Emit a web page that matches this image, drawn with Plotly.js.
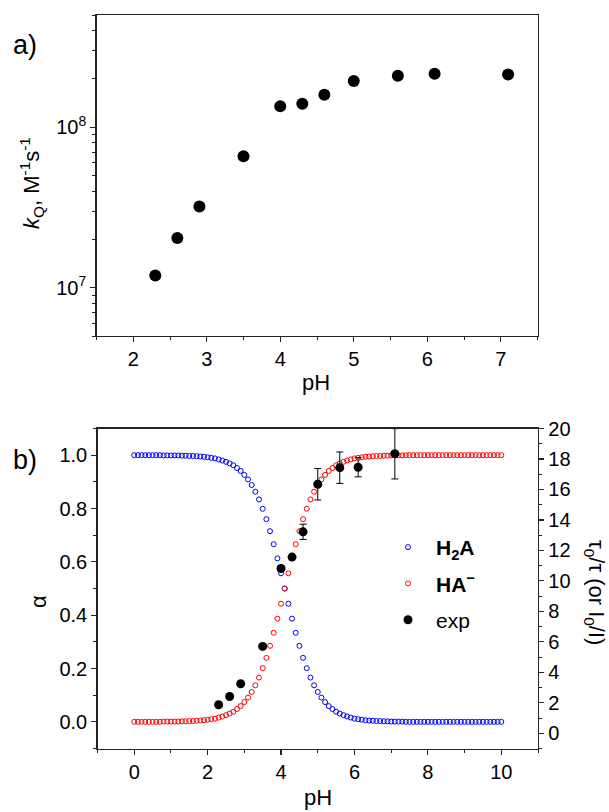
<!DOCTYPE html>
<html>
<head>
<meta charset="utf-8">
<script src="https://cdn.plot.ly/plotly-3.0.1.min.js"></script>
<style>
html,body{margin:0;padding:0;background:#fff;}
#chart{width:609px;height:812px;}
</style>
</head>
<body>
<div id="chart"></div>
<script>
// ---------- Panel a data ----------
const phA = [2.3, 2.6, 2.9, 3.5, 4.0, 4.3, 4.6, 5.0, 5.6, 6.1, 7.1];
const kQ = [1.19e7, 2.04e7, 3.2e7, 6.58e7, 1.35e8, 1.40e8, 1.59e8, 1.94e8, 2.09e8, 2.15e8, 2.13e8];
const kQTickVals = [1e7, 1e8];
const kQTickText = ['10<sup>7</sup>', '10<sup>8</sup>'];
const kQMinorVals = [5e6, 6e6, 7e6, 8e6, 9e6, 2e7, 3e7, 4e7, 5e7, 6e7, 7e7, 8e7, 9e7, 2e8, 3e8, 4e8, 5e8];

// ---------- Panel b data ----------
const phCurve = [0.0,0.1,0.2,0.3,0.4,0.5,0.6,0.7,0.8,0.9,1.0,1.1,1.2,1.3,1.4,1.5,1.6,1.7,1.8,1.9,2.0,2.1,2.2,2.3,2.4,2.5,2.6,2.7,2.8,2.9,3.0,3.1,3.2,3.3,3.4,3.5,3.6,3.7,3.8,3.9,4.0,4.1,4.2,4.3,4.4,4.5,4.6,4.7,4.8,4.9,5.0,5.1,5.2,5.3,5.4,5.5,5.6,5.7,5.8,5.9,6.0,6.1,6.2,6.3,6.4,6.5,6.6,6.7,6.8,6.9,7.0,7.1,7.2,7.3,7.4,7.5,7.6,7.7,7.8,7.9,8.0,8.1,8.2,8.3,8.4,8.5,8.6,8.7,8.8,8.9,9.0,9.1,9.2,9.3,9.4,9.5,9.6,9.7,9.8,9.9,10.0];
const alphaH2A = [1.000,1.000,1.000,1.000,1.000,1.000,1.000,1.000,0.999,0.999,0.999,0.999,0.999,0.998,0.998,0.997,0.997,0.996,0.995,0.994,0.992,0.990,0.988,0.984,0.980,0.975,0.969,0.962,0.952,0.941,0.926,0.909,0.888,0.863,0.834,0.799,0.760,0.715,0.666,0.613,0.557,0.500,0.443,0.387,0.334,0.285,0.240,0.201,0.166,0.137,0.112,0.091,0.074,0.059,0.048,0.038,0.031,0.025,0.020,0.016,0.012,0.010,0.008,0.006,0.005,0.004,0.003,0.003,0.002,0.002,0.001,0.001,0.001,0.001,0.000,0.000,0.000,0.000,0.000,0.000,0.000,0.000,0.000,0.000,0.000,0.000,0.000,0.000,0.000,0.000,0.000,0.000,0.000,0.000,0.000,0.000,0.000,0.000,0.000,0.000,0.000];
const alphaHA = [0.000,0.000,0.000,0.000,0.000,0.000,0.000,0.000,0.001,0.001,0.001,0.001,0.001,0.002,0.002,0.003,0.003,0.004,0.005,0.006,0.008,0.010,0.012,0.016,0.020,0.025,0.031,0.038,0.048,0.059,0.074,0.091,0.112,0.137,0.166,0.201,0.240,0.285,0.334,0.387,0.443,0.500,0.557,0.613,0.666,0.715,0.760,0.799,0.834,0.863,0.888,0.909,0.926,0.941,0.952,0.962,0.969,0.975,0.980,0.984,0.988,0.990,0.992,0.994,0.995,0.996,0.997,0.997,0.998,0.998,0.999,0.999,0.999,0.999,1.000,1.000,1.000,1.000,1.000,1.000,1.000,1.000,1.000,1.000,1.000,1.000,1.000,1.000,1.000,1.000,1.000,1.000,1.000,1.000,1.000,1.000,1.000,1.000,1.000,1.000,1.000];
const phExp = [2.3, 2.6, 2.9, 3.5, 4.0, 4.3, 4.6, 5.0, 5.6, 6.1, 7.1];
const tauRatio = [1.87, 2.41, 3.25, 5.70, 10.81, 11.56, 13.22, 16.34, 17.43, 17.46, 18.34];
const tauErr = [0, 0, 0, 0, 0, 0, 0.5, 1.03, 1.03, 0.63, 1.65];
const legendNames = ['<b>H<sub>2</sub>A</b>', '<b>HA<sup>\u2212</sup></b>', 'exp'];

const W = 609, H = 812;
const px = v => v / W;
const py = v => 1 - v / H;
const FONT = 'Liberation Sans, Arial, sans-serif';
const TICKF = {family: FONT, size: 20, color: '#000'};
const LC = '#222';

const traces = [
  {x: phA, y: kQ, xaxis: 'x', yaxis: 'y', type: 'scatter', mode: 'markers',
   marker: {color: '#000', size: 12}, showlegend: false, hoverinfo: 'skip'},
  {x: phCurve, y: alphaH2A, xaxis: 'x2', yaxis: 'y2', type: 'scatter', mode: 'markers',
   name: legendNames[0], legendgroup: 'g1',
   marker: {symbol: 'circle-open', color: '#0000ff', size: 5, line: {width: 1, color: '#0000ff'}}},
  {x: phCurve, y: alphaHA, xaxis: 'x2', yaxis: 'y2', type: 'scatter', mode: 'markers',
   name: legendNames[1], legendgroup: 'g2',
   marker: {symbol: 'circle-open', color: '#ff0000', size: 5, line: {width: 1, color: '#ff0000'}}},
  {x: phExp, y: tauRatio, xaxis: 'x2', yaxis: 'y3', type: 'scatter', mode: 'markers',
   name: legendNames[2], legendgroup: 'g3',
   marker: {color: '#000', size: 9},
   error_y: {type: 'data', array: tauErr, visible: true, color: '#000', thickness: 1, width: 3.5}}
];

const common = {showline: true, linecolor: LC, linewidth: 1.3, ticks: 'outside', ticklen: 5,
  tickwidth: 1.2, tickcolor: LC, showgrid: false, zeroline: false, tickfont: TICKF};

const ann = (text, x, y, size, angle) => ({text: text, x: px(x), y: py(y), xref: 'paper', yref: 'paper',
  xanchor: 'center', yanchor: 'middle', showarrow: false, textangle: angle || 0,
  font: {family: FONT, size: size, color: '#000'}});

const layout = {
  width: W, height: H,
  margin: {l: 0, r: 0, t: 0, b: 0},
  paper_bgcolor: '#fff', plot_bgcolor: '#fff',
  font: {family: FONT, color: '#000'},
  showlegend: true,
  legend: {x: px(380), y: py(527), xanchor: 'left', yanchor: 'top', bgcolor: 'rgba(0,0,0,0)',
    font: {family: FONT, size: 21, color: '#000'}, traceorder: 'grouped', tracegroupgap: 6,
    itemwidth: 46},
  xaxis: Object.assign({}, common, {domain: [px(96.5), px(537.5)], anchor: 'y', range: [1.5, 7.5],
    tickmode: 'array', tickvals: [2, 3, 4, 5, 6, 7], mirror: true,
    minor: {ticks: 'outside', ticklen: 3, tickwidth: 1, tickcolor: LC, tick0: 1.5, dtick: 0.5}}),
  yaxis: Object.assign({}, common, {domain: [py(336), py(15)], anchor: 'x', type: 'log',
    range: [Math.log10(5e6), Math.log10(5e8)], tickmode: 'array', tickvals: kQTickVals, ticktext: kQTickText,
    mirror: true,
    minor: {ticks: 'outside', ticklen: 3, tickwidth: 1, tickcolor: LC, tickmode: 'array', tickvals: kQMinorVals}}),
  xaxis2: Object.assign({}, common, {domain: [px(97.5), px(538)], anchor: 'y2', range: [-1, 11],
    tickmode: 'linear', tick0: 0, dtick: 2, mirror: true,
    minor: {ticks: 'outside', ticklen: 3, tickwidth: 1, tickcolor: LC, tick0: -1, dtick: 1}}),
  yaxis2: Object.assign({}, common, {domain: [py(748.5), py(428.5)], anchor: 'x2', range: [-0.1, 1.1],
    tickmode: 'linear', tick0: 0, dtick: 0.2, tickformat: '.1f',
    minor: {ticks: 'outside', ticklen: 3, tickwidth: 1, tickcolor: LC, tick0: -0.1, dtick: 0.1}}),
  yaxis3: Object.assign({}, common, {overlaying: 'y2', anchor: 'x2', side: 'right', range: [-1, 20],
    tickmode: 'linear', tick0: 0, dtick: 2,
    minor: {ticks: 'outside', ticklen: 3, tickwidth: 1, tickcolor: LC, tick0: -1, dtick: 1}}),
  annotations: [
    ann('a)', 25, 45, 27),
    ann('b)', 25, 460, 27),
    ann('pH', 316, 382, 22),
    ann('pH', 318, 797, 22),
    ann('<i>k</i><sub>Q</sub>, M<sup>-1</sup>s<sup>-1</sup>', 31, 183, 22, -90),
    ann('\u03b1', 38, 602, 22, -90),
    ann('\u03c4<sub>0</sub>/\u03c4 (or I<sub>0</sub>/I)', 595, 592, 22, 90)
  ]
};

Plotly.newPlot('chart', traces, layout, {staticPlot: true, displayModeBar: false});
</script>
</body>
</html>
